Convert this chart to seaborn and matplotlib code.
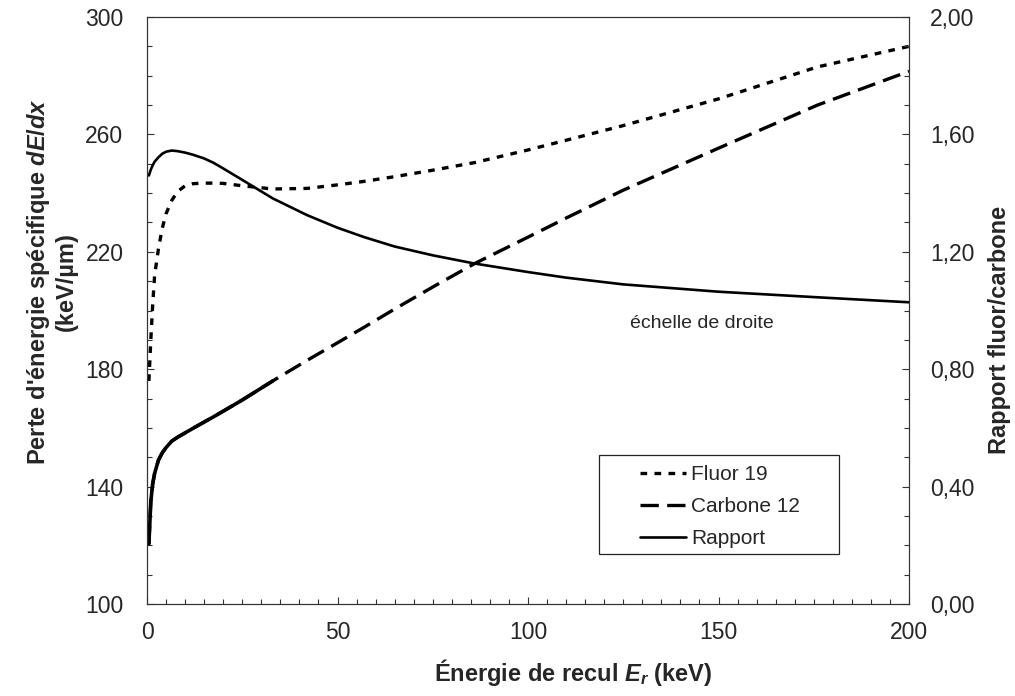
import matplotlib
matplotlib.use("Agg")
import matplotlib.pyplot as plt
import seaborn as sns
from matplotlib.ticker import MultipleLocator, FuncFormatter
from matplotlib.patches import Rectangle

# ---- data ----
energie = [0.5, 1, 1.5, 2, 3, 4, 5, 6.5, 8, 10, 12, 15, 17.5, 20, 25, 33, 42,
           50, 57, 65, 75, 86, 100, 110, 125, 150, 176, 200]
fluor = [176, 190, 202, 212, 221, 228, 233, 237.5, 240.5, 242.5, 243.2, 243.4,
         243.4, 243.3, 242.5, 241.4, 241.6, 242.8, 244.0, 245.6, 247.8, 250.4,
         254.7, 258, 263, 272.1, 283, 290]
carbone = [120.5, 135, 141, 144.5, 149, 151.5, 153.3, 155.5, 156.8, 158.3,
           159.8, 162, 163.8, 165.7, 169.5, 176, 183, 189, 194.3, 200.5, 208,
           216, 225, 231.5, 241, 255.3, 270, 281.5]
rapport = [1.46, 1.48, 1.495, 1.507, 1.522, 1.534, 1.541, 1.545, 1.543, 1.538,
           1.531, 1.518, 1.503, 1.484, 1.445, 1.382, 1.325, 1.282, 1.250, 1.218,
           1.188, 1.160, 1.131, 1.112, 1.089, 1.064, 1.045, 1.028]

labels = ["Fluor 19", "Carbone 12", "Rapport"]
xticks = [0, 50, 100, 150, 200]
yticks_left = [100, 140, 180, 220, 260, 300]
yticks_right = [0.0, 0.4, 0.8, 1.2, 1.6, 2.0]

# ---- style ----
sns.set_theme(style="white")
plt.rcParams["font.family"] = ["Liberation Sans", "DejaVu Sans"]
plt.rcParams["mathtext.fontset"] = "custom"
plt.rcParams["mathtext.it"] = "Liberation Sans:italic:bold"
plt.rcParams["mathtext.rm"] = "Liberation Sans:bold"
plt.rcParams["mathtext.bf"] = "Liberation Sans:bold"

W, H = 1015, 696
fig = plt.figure(figsize=(W / 100, H / 100), dpi=100)
fig.patch.set_facecolor("white")
L, R, T, B = 147, 909, 17, 604
ax = fig.add_axes([L / W, 1 - B / H, (R - L) / W, (B - T) / H])
ax2 = ax.twinx()

# ---- lines ----
sns.lineplot(x=energie, y=fluor, ax=ax, color="black", lw=2.4,
             linestyle=(0, (2.0, 2.2)), label=labels[0])
n_solid = energie.index(33) + 1
sns.lineplot(x=energie, y=carbone, ax=ax, color="black", lw=2.4,
             linestyle=(0, (5.5, 2.5)), label=labels[1])
sns.lineplot(x=energie[:n_solid], y=carbone[:n_solid], ax=ax, color="black",
             lw=2.6, linestyle="-")
sns.lineplot(x=energie, y=rapport, ax=ax2, color="black", lw=1.9,
             linestyle="-", label=labels[2])

for a in (ax, ax2):
    if a.get_legend() is not None:
        a.get_legend().remove()

# ---- axes ----
ax.set_xlim(0, 200)
ax.set_ylim(100, 300)
ax2.set_ylim(0, 2.0)
ax.set_xticks(xticks)
ax.set_yticks(yticks_left)
ax2.set_yticks(yticks_right)
ax.xaxis.set_minor_locator(MultipleLocator(5))
ax.yaxis.set_minor_locator(MultipleLocator(10))
ax2.yaxis.set_minor_locator(MultipleLocator(0.1))
ax2.yaxis.set_major_formatter(FuncFormatter(lambda v, p: f"{v:.2f}".replace(".", ",")))

ax.set_xlabel("")
ax.set_ylabel("")
ax2.set_ylabel("")

tick_col = "#333333"
ax.tick_params(axis="x", which="both", direction="in", bottom=True, top=False,
               color=tick_col, labelsize=16.5, pad=12, width=0.8)
ax.tick_params(axis="y", which="both", direction="in", left=True, right=False,
               color=tick_col, labelsize=16.5, pad=17, width=0.8)
ax2.tick_params(axis="y", which="both", direction="in", right=True, left=False,
                color=tick_col, labelsize=16.5, pad=15, width=0.8)
for a in (ax, ax2):
    a.tick_params(which="major", length=5)
    a.tick_params(which="minor", length=3.5)
    for s in a.spines.values():
        s.set_visible(True)
        s.set_color(tick_col)
        s.set_linewidth(0.8)

# ---- labels ----
fig.text(0.565, 0.034, "Énergie de recul $E_r$ (keV)", ha="center", va="center",
         fontsize=17, fontweight="bold")
fig.text(0.051, 0.595, "Perte d'énergie spécifique $dE/dx$\n(keV/µm)",
         ha="center", va="center", rotation=90, fontsize=17,
         fontweight="bold", linespacing=1.15)
fig.text(0.985, 0.526, "Rapport fluor/carbone", ha="center", va="center",
         rotation=90, fontsize=17, fontweight="bold")

ax2.text((702 - L) / (R - L), (B - 323) / (B - T), "échelle de droite",
         transform=ax2.transAxes, ha="center", va="center", fontsize=14)

# ---- legend ----
h1, l1 = ax.get_legend_handles_labels()
h2, l2 = ax2.get_legend_handles_labels()
handles = h1 + h2
leg = ax2.legend(handles, labels, loc="upper left",
                 bbox_to_anchor=((640 - L) / (R - L), (B - 465) / (B - T)),
                 frameon=False, fontsize=15, borderpad=0, borderaxespad=0,
                 handlelength=2.2, handletextpad=0.25, labelspacing=0.62)
ax2.add_patch(Rectangle(((599 - L) / (R - L), (B - 554) / (B - T)),
                        (839 - 599) / (R - L), (554 - 455) / (B - T),
                        transform=ax2.transAxes, fill=False,
                        edgecolor="#222222", lw=0.9, zorder=5))

fig.savefig("out.png", dpi=100, facecolor="white")
